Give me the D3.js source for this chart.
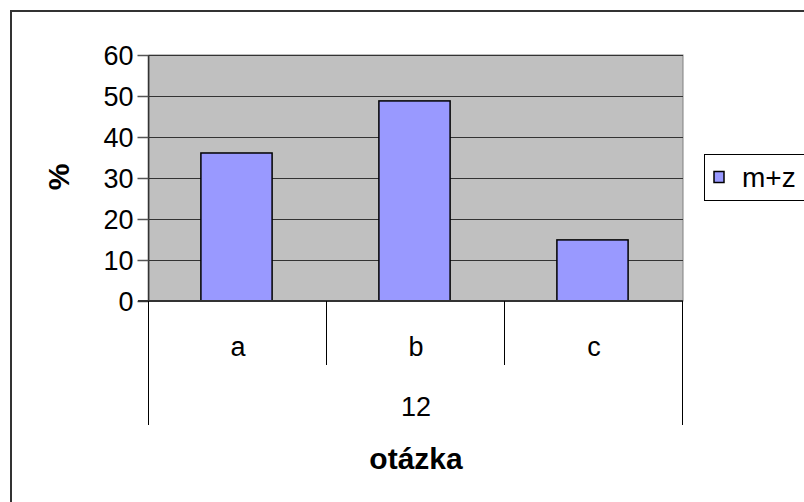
<!DOCTYPE html>
<html>
<head>
<meta charset="utf-8">
<script src="https://cdn.jsdelivr.net/npm/d3@7"></script>
<style>
  body { margin: 0; background: #fff; }
  svg { display: block; font-family: Arial, "Liberation Sans", sans-serif; }
</style>
</head>
<body>
<svg id="chart" width="804" height="502"></svg>
<script>
// data
var categories = ["a", "b", "c"];
var values = [36.1, 48.8, 14.9];
var groupLabel = "12";
var seriesName = "m+z";
var yTicks = [0, 10, 20, 30, 40, 50, 60];

var svg = d3.select("#chart");

var plot = { left: 149, top: 55, right: 683, bottom: 301 };
var fontSize = 27;
var titleSize = 30;

var x = d3.scaleBand().domain(categories).range([plot.left, plot.right]).padding(0);
var y = d3.scaleLinear().domain([0, 60]).range([plot.bottom, plot.top]);

// outer chart border (only top/left visible, rest is cut off)
svg.append("path")
    .attr("d", "M11,502 L11,11 L804,11")
    .attr("fill", "none")
    .attr("stroke", "#333")
    .attr("stroke-width", 2);

// plot area
svg.append("rect")
    .attr("x", plot.left)
    .attr("y", plot.top)
    .attr("width", plot.right - plot.left)
    .attr("height", plot.bottom - plot.top)
    .attr("fill", "#c0c0c0")
    .attr("stroke", "#808080")
    .attr("stroke-width", 1);

// gridlines
svg.append("g")
    .selectAll("line")
    .data(yTicks.slice(1))
    .enter().append("line")
    .attr("x1", plot.left)
    .attr("x2", plot.right)
    .attr("y1", function (d) { return Math.round(y(d)) + 0.5; })
    .attr("y2", function (d) { return Math.round(y(d)) + 0.5; })
    .attr("stroke", "#333")
    .attr("stroke-width", 1.2);

// bars, excel style gap width 150%
var barW = x.bandwidth() / 2.5;
svg.append("g")
    .selectAll("rect")
    .data(values)
    .enter().append("rect")
    .attr("x", function (d, i) { return x(categories[i]) + (x.bandwidth() - barW) / 2 - 1.5; })
    .attr("y", function (d) { return y(d); })
    .attr("width", barW)
    .attr("height", function (d) { return plot.bottom - y(d); })
    .attr("fill", "#9999ff")
    .attr("stroke", "#000")
    .attr("stroke-width", 1.5);

// y axis
var yAxis = d3.axisLeft(y)
    .tickValues(yTicks)
    .tickSize(11)
    .tickPadding(4);

var gy = svg.append("g")
    .attr("transform", "translate(" + (plot.left - 0.5) + ",0)")
    .call(yAxis);
gy.select(".domain").attr("stroke", "#333").attr("stroke-width", 1.5)
    .attr("d", "M0," + plot.top + "V" + plot.bottom);
gy.selectAll(".tick line").attr("stroke", "#555").attr("stroke-width", 1.5);
gy.selectAll(".tick text")
    .attr("font-size", fontSize)
    .attr("font-family", "Arial, 'Liberation Sans', sans-serif")
    .attr("fill", "#000")
    .attr("dy", "0.36em");

// x axis line
svg.append("line")
    .attr("x1", plot.left - 11)
    .attr("x2", plot.right)
    .attr("y1", plot.bottom)
    .attr("y2", plot.bottom)
    .attr("stroke", "#333")
    .attr("stroke-width", 2);

// category separators
var seps = [plot.left].concat(categories.map(function (c) { return x(c) + x.bandwidth(); }));
svg.append("g")
    .selectAll("line")
    .data(seps)
    .enter().append("line")
    .attr("x1", function (d) { return d - 0.5; })
    .attr("x2", function (d) { return d - 0.5; })
    .attr("y1", plot.bottom)
    .attr("y2", function (d, i) { return (i == 0 || i == seps.length - 1) ? 425 : 365; })
    .attr("stroke", "#000")
    .attr("stroke-width", 1);

// category labels
svg.append("g")
    .selectAll("text")
    .data(categories)
    .enter().append("text")
    .attr("x", function (d) { return x(d) + x.bandwidth() / 2; })
    .attr("y", 356)
    .attr("text-anchor", "middle")
    .attr("font-size", fontSize)
    .text(function (d) { return d; });

svg.append("text")
    .attr("x", (plot.left + plot.right) / 2)
    .attr("y", 416)
    .attr("text-anchor", "middle")
    .attr("font-size", fontSize)
    .text(groupLabel);

// axis titles
svg.append("text")
    .attr("x", (plot.left + plot.right) / 2)
    .attr("y", 469)
    .attr("text-anchor", "middle")
    .attr("font-size", titleSize)
    .attr("font-weight", "bold")
    .text("otázka");

svg.append("text")
    .attr("transform", "translate(69,177) rotate(-90)")
    .attr("text-anchor", "middle")
    .attr("font-size", titleSize)
    .attr("font-weight", "bold")
    .text("%");

// legend
var lg = svg.append("g");
lg.append("rect")
    .attr("x", 704.5)
    .attr("y", 154.5)
    .attr("width", 120)
    .attr("height", 46)
    .attr("fill", "#fff")
    .attr("stroke", "#000")
    .attr("stroke-width", 1);
lg.append("rect")
    .attr("x", 714)
    .attr("y", 171.5)
    .attr("width", 10)
    .attr("height", 11)
    .attr("fill", "#9999ff")
    .attr("stroke", "#000")
    .attr("stroke-width", 1.5);
lg.append("text")
    .attr("x", 742)
    .attr("y", 187)
    .attr("font-size", 28)
    .text(seriesName);
</script>
</body>
</html>
